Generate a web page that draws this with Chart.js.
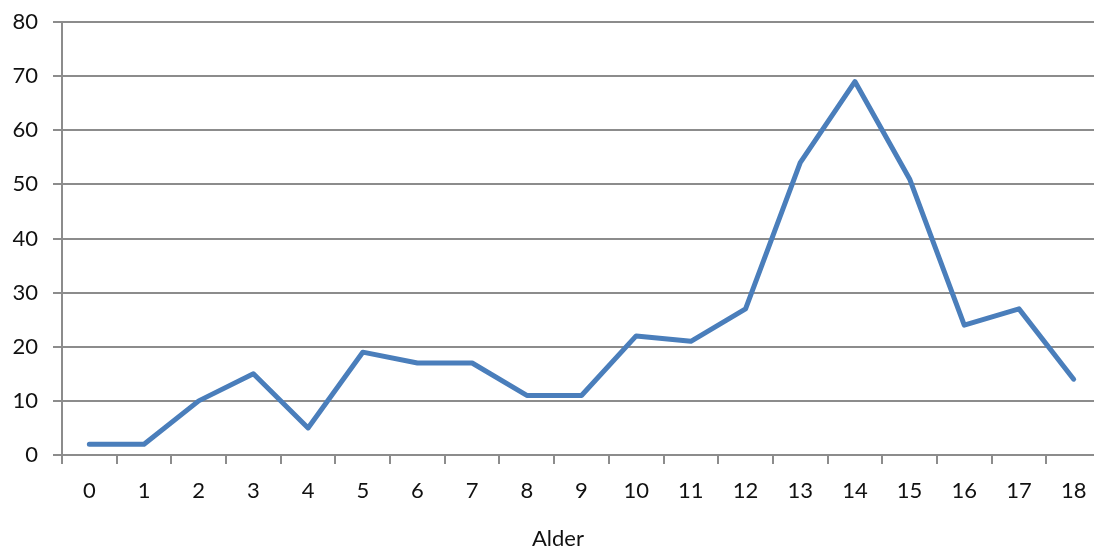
<!DOCTYPE html>
<html>
<head>
<meta charset="utf-8">
<script src="https://cdn.jsdelivr.net/npm/chart.js@4"></script>
<style>
html,body{margin:0;padding:0;background:#fff;overflow:hidden;width:1094px;height:550px;}
#wrap{position:absolute;left:0;top:0;width:1101px;height:550px;}
#xt{position:absolute;top:524px;left:532px;font-family:Lato,"Open Sans",sans-serif;font-size:22px;color:#111;}
</style>
</head>
<body>
<div id="wrap"><canvas id="c" width="1101" height="550"></canvas></div>
<div id="xt">Alder</div>
<script>
const categories = ["0","1","2","3","4","5","6","7","8","9","10","11","12","13","14","15","16","17","18"];
const values = [2,2,10,15,5,19,17,17,11,11,22,21,27,54,69,51,24,27,14];
const yTicks = [0,10,20,30,40,50,60,70,80];

const gridColor = '#8c8c8c';
new Chart(document.getElementById('c'), {
  type: 'line',
  data: {
    labels: categories,
    datasets: [{
      data: values,
      borderColor: '#4a7ebb',
      borderWidth: 5,
      pointRadius: 0,
      tension: 0,
      borderCapStyle: 'round',
      borderJoinStyle: 'round',
      fill: false
    }]
  },
  options: {
    responsive: false,
    animation: false,
    devicePixelRatio: 1,
    layout: { autoPadding: false, padding: { top: 22, left: 0, right: 0, bottom: 0 } },
    plugins: { legend: { display: false }, tooltip: { enabled: false } },
    scales: {
      x: {
        offset: true,
        grid: { offset: true, drawOnChartArea: false, drawTicks: true, tickLength: 9, color: gridColor, lineWidth: 2 },
        border: { display: true, color: gridColor, width: 2 },
        ticks: { padding: 14, color: '#111', font: { family: 'Lato, "Open Sans", sans-serif', size: 22 }, maxRotation: 0, autoSkip: false },
        afterFit: s => { s.height = 95; s.paddingLeft = 0; s.paddingRight = 0; }
      },
      y: {
        min: 0, max: 80,
        afterBuildTicks: s => { s.ticks = yTicks.map(v => ({ value: v })); },
        grid: { color: gridColor, lineWidth: 2, tickLength: 9, drawTicks: true },
        border: { display: true, color: gridColor, width: 2 },
        ticks: { padding: 15, color: '#111', font: { family: 'Lato, "Open Sans", sans-serif', size: 22 } },
        afterFit: s => { s.width = 62; s.paddingTop = 0; s.paddingBottom = 0; }
      }
    }
  }
});
</script>
</body>
</html>
